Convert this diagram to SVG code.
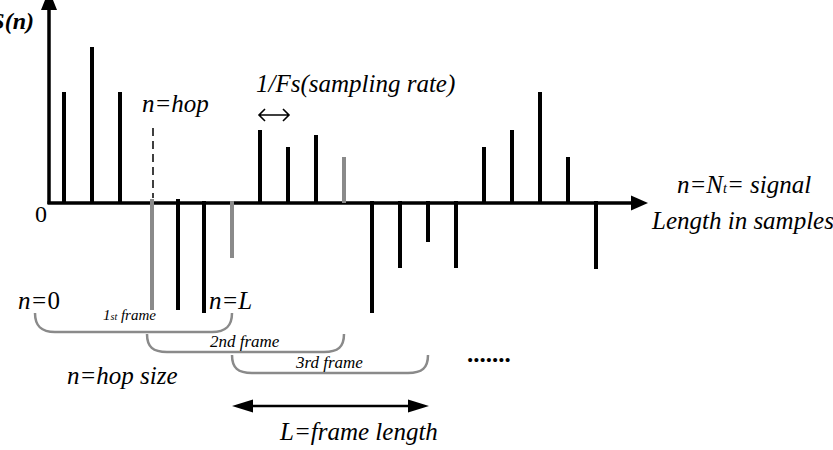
<svg xmlns="http://www.w3.org/2000/svg" width="833" height="450" viewBox="0 0 833 450">
<style>
.t{font-family:"Liberation Serif","Times New Roman",serif;font-style:italic;fill:#000}
.b{stroke:#000;stroke-width:4;fill:none}
.g{stroke:#8a8a8a;stroke-width:4;fill:none}
.br{stroke:#8a8a8a;stroke-width:2.5;fill:none}
</style>
<rect width="833" height="450" fill="#fff"/>
<g id="axes">
<line x1="49" y1="204" x2="49" y2="6" stroke="#000" stroke-width="3.5"/>
<polygon points="49,-10 41,10 57,10" fill="#000"/>
<line x1="47.5" y1="203" x2="634" y2="203" stroke="#000" stroke-width="3.5"/>
<polygon points="648,203 631,195.5 631,210.5" fill="#000"/>
</g>
<g id="stems">
<line class="b" x1="64" y1="203" x2="64" y2="92"/>
<line class="b" x1="92" y1="203" x2="92" y2="47"/>
<line class="b" x1="120" y1="203" x2="120" y2="92"/>
<line class="g" x1="152" y1="199" x2="152" y2="310"/>
<line class="b" x1="178" y1="199" x2="178" y2="310"/>
<line class="b" x1="204" y1="201" x2="204" y2="313"/>
<line class="g" x1="232" y1="201" x2="232" y2="258"/>
<line class="b" x1="260" y1="203" x2="260" y2="130"/>
<line class="b" x1="288" y1="203" x2="288" y2="147"/>
<line class="b" x1="316" y1="203" x2="316" y2="135"/>
<line class="g" x1="344" y1="203" x2="344" y2="157"/>
<line class="b" x1="372" y1="201" x2="372" y2="313"/>
<line class="b" x1="400" y1="201" x2="400" y2="268"/>
<line class="b" x1="428" y1="201" x2="428" y2="242"/>
<line class="b" x1="456" y1="201" x2="456" y2="268"/>
<line class="b" x1="484" y1="203" x2="484" y2="147"/>
<line class="b" x1="512" y1="203" x2="512" y2="130"/>
<line class="b" x1="540" y1="203" x2="540" y2="92"/>
<line class="b" x1="568" y1="203" x2="568" y2="157"/>
<line class="b" x1="596" y1="201" x2="596" y2="269"/>
</g>
<g id="connectors">
<line x1="153" y1="128" x2="153" y2="198" stroke="#000" stroke-width="1.5" stroke-dasharray="8,5"/>
<path d="M259,115 H289 M265,109 L259,115 L265,121 M283,109 L289,115 L283,121" stroke="#000" stroke-width="1.6" fill="none"/>
<line x1="250" y1="406" x2="410" y2="406" stroke="#000" stroke-width="2.5"/>
<polygon points="232,406 253,399.5 253,412.5" fill="#000"/>
<polygon points="429,406 408,399.5 408,412.5" fill="#000"/>
</g>
<g id="frames">
<path class="br" d="M35,313 C35,326 41,332 55,332 H212 C226,332 232,326 232,313"/>
<path class="br" d="M147,334 C147,347 153,352 167,352 H324 C338,352 344,347 344,334"/>
<path class="br" d="M232,355 C232,368 238,373 252,373 H408 C422,373 428,368 428,355"/>
</g>
<g id="labels">
<text class="t" x="34" y="29" font-size="24" font-weight="bold" text-anchor="end">S(n)</text>
<text class="t" x="35" y="222" font-size="24" style="font-style:normal">0</text>
<text class="t" x="142" y="112" font-size="25">n=hop</text>
<text class="t" x="256" y="92" font-size="25">1/Fs(sampling rate)</text>
<text class="t" x="677" y="193" font-size="25">n=N<tspan font-size="14">t</tspan>= signal</text>
<text class="t" x="652" y="229" font-size="25">Length in samples</text>
<text class="t" x="18" y="309" font-size="25">n=<tspan style="font-style:normal">0</tspan></text>
<text class="t" x="209" y="309" font-size="25">n=L</text>
<text class="t" x="103" y="320" font-size="15">1<tspan font-size="10">st</tspan> frame</text>
<text class="t" x="210" y="347" font-size="17">2nd frame</text>
<text class="t" x="296" y="368" font-size="17">3rd frame</text>
<text class="t" x="467" y="362" font-size="25" font-weight="bold" style="font-style:normal">.......</text>
<text class="t" x="67" y="384" font-size="25">n=hop size</text>
<text class="t" x="280" y="440" font-size="25">L=frame length</text>
</g>
</svg>
